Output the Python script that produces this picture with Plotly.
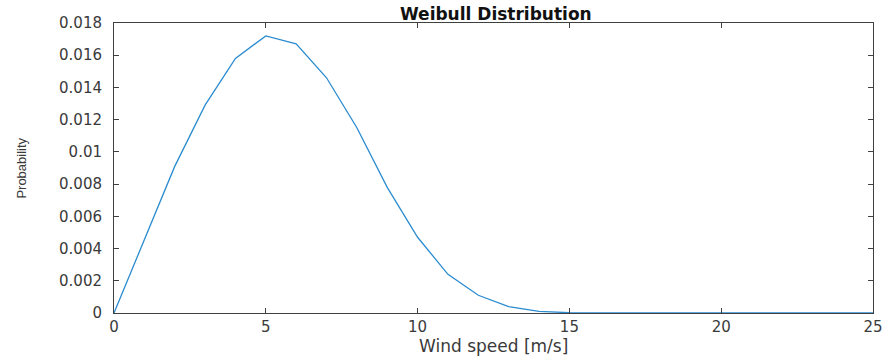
import plotly.graph_objects as go

wind_speed = list(range(0, 26))
probability = [0.0, 0.0046, 0.0091, 0.0129, 0.0158, 0.0172, 0.0167, 0.0146, 0.0115,
               0.0078, 0.0047, 0.0024, 0.0011, 0.0004, 0.0001, 0.00002, 0.0, 0.0,
               0.0, 0.0, 0.0, 0.0, 0.0, 0.0, 0.0, 0.0]
x_ticks = [0, 5, 10, 15, 20, 25]
y_ticks = [0, 0.002, 0.004, 0.006, 0.008, 0.01, 0.012, 0.014, 0.016, 0.018]
y_tick_labels = ["0", "0.002", "0.004", "0.006", "0.008", "0.01", "0.012", "0.014", "0.016", "0.018"]

axis_color = "#404040"
tick_font = dict(family="DejaVu Sans", size=15, color="#3a3a3a")

fig = go.Figure()
fig.add_trace(go.Scatter(x=wind_speed, y=probability, mode="lines",
                         line=dict(color="#2b8cd0", width=1.3), showlegend=False))

fig.update_layout(
    width=895, height=358,
    margin=dict(l=114, r=17, t=23, b=45),
    plot_bgcolor="white", paper_bgcolor="white",
    title=dict(text="<b>Weibull Distribution</b>", x=0.554, xanchor="center",
               y=1 - 14 / 358, yanchor="middle", yref="container",
               font=dict(family="DejaVu Sans", size=17, color="#111111")),
    annotations=[
        dict(text="Wind speed [m/s]", xref="paper", yref="paper", x=0.5, y=-(346 - 313) / 290,
             xanchor="center", yanchor="middle", showarrow=False,
             font=dict(family="DejaVu Sans", size=17, color="#3a3a3a")),
        dict(text="Probability", xref="paper", yref="paper", x=-(114 - 20) / 764, y=0.5,
             xanchor="center", yanchor="middle", showarrow=False, textangle=-90,
             font=dict(family="Liberation Sans", size=13, color="#3a3a3a")),
    ],
)
fig.update_xaxes(range=[0, 25], tickvals=x_ticks, ticks="inside", ticklen=5,
                 showline=True, linecolor=axis_color, linewidth=1, mirror="ticks",
                 tickcolor=axis_color, showgrid=False, zeroline=False,
                 tickfont=tick_font, ticklabelstandoff=0)
fig.update_yaxes(range=[0, 0.018], tickvals=y_ticks, ticktext=y_tick_labels,
                 ticks="inside", ticklen=5,
                 showline=True, linecolor=axis_color, linewidth=1, mirror="ticks",
                 tickcolor=axis_color, showgrid=False, zeroline=False,
                 tickfont=tick_font, ticklabelstandoff=8)

fig.write_html("out.html")
